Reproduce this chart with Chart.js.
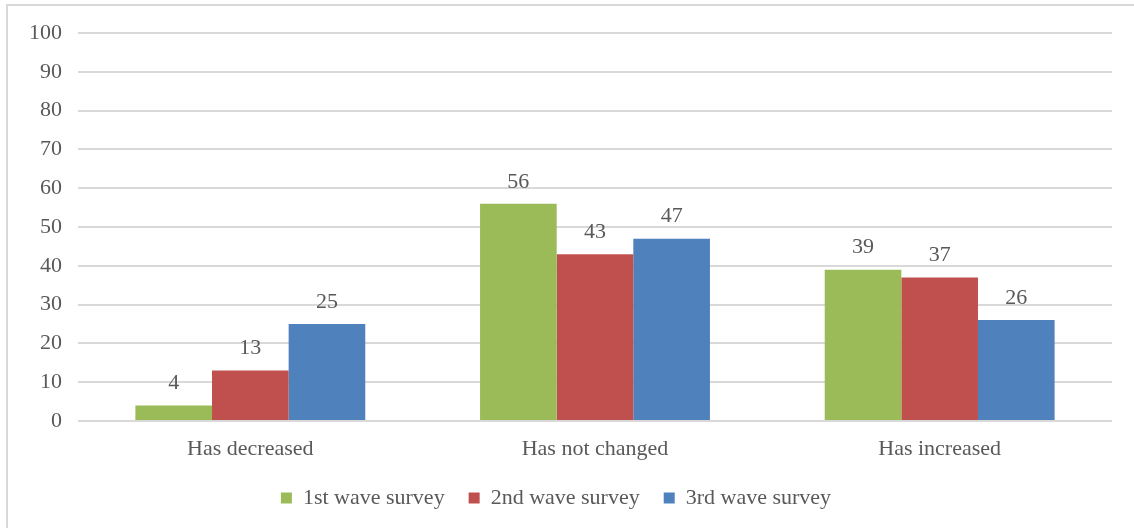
<!DOCTYPE html>
<html>
<head>
<meta charset="utf-8">
<script src="https://cdn.jsdelivr.net/npm/chart.js@4/dist/chart.umd.min.js"></script>
<style>
  html, body { margin: 0; padding: 0; background: #fff; overflow: hidden; }
  #marco {
    position: absolute; left: 6px; top: 4px; width: 1140px; height: 540px;
    border: 2px solid #d9d9d9; box-sizing: border-box;
  }
  #grafico { position: absolute; left: 0; top: 0; }
</style>
</head>
<body>
<div id="marco"></div>
<canvas id="grafico" width="1134" height="528"></canvas>
<script>
const categorias = ["Has decreased", "Has not changed", "Has increased"];
const series = ["1st wave survey", "2nd wave survey", "3rd wave survey"];
const ola1 = [4, 56, 39];
const ola2 = [13, 43, 37];
const ola3 = [25, 47, 26];
const colores = ["#9bbb59", "#c0504d", "#4f81bd"];

const fuente = "'Liberation Serif', 'DejaVu Serif', serif";
const gris = "#595959";
const tam = 22;

// etiquetas con el valor encima de cada barra
const valores = {
  id: "valores",
  afterDatasetsDraw(chart) {
    const ctx = chart.ctx;
    ctx.save();
    ctx.font = tam + "px " + fuente;
    ctx.fillStyle = gris;
    ctx.textAlign = "center";
    ctx.textBaseline = "bottom";
    chart.data.datasets.forEach((ds, i) => {
      chart.getDatasetMeta(i).data.forEach((bar, j) => {
        ctx.fillText(ds.data[j], bar.x, bar.y - 11);
      });
    });
    ctx.restore();
  }
};

new Chart(document.getElementById("grafico"), {
  type: "bar",
  data: {
    labels: categorias,
    datasets: [ola1, ola2, ola3].map((d, i) => ({
      label: series[i],
      data: d,
      backgroundColor: colores[i],
      borderWidth: 0
    }))
  },
  options: {
    responsive: false,
    animation: false,
    layout: { padding: { top: 33, right: 22, left: 0, bottom: 9 } },
    datasets: { bar: { categoryPercentage: 0.667, barPercentage: 1 } },
    scales: {
      x: {
        grid: { display: false },
        border: { display: false },
        ticks: { color: gris, font: { family: fuente, size: tam }, padding: 7 },
        afterFit: s => { s.height = 42; }
      },
      y: {
        min: 0,
        max: 100,
        ticks: { stepSize: 10, color: gris, font: { family: fuente, size: tam }, padding: 16 },
        grid: { color: "#d9d9d9", lineWidth: 2, drawTicks: false },
        border: { display: false },
        afterFit: s => { s.width = 78; }
      }
    },
    plugins: {
      legend: {
        position: "bottom",
        labels: {
          color: gris,
          font: { family: fuente, size: tam },
          boxWidth: 11,
          boxHeight: 11,
          padding: 24
        }
      },
      tooltip: { enabled: false }
    }
  },
  plugins: [valores]
});
</script>
</body>
</html>
